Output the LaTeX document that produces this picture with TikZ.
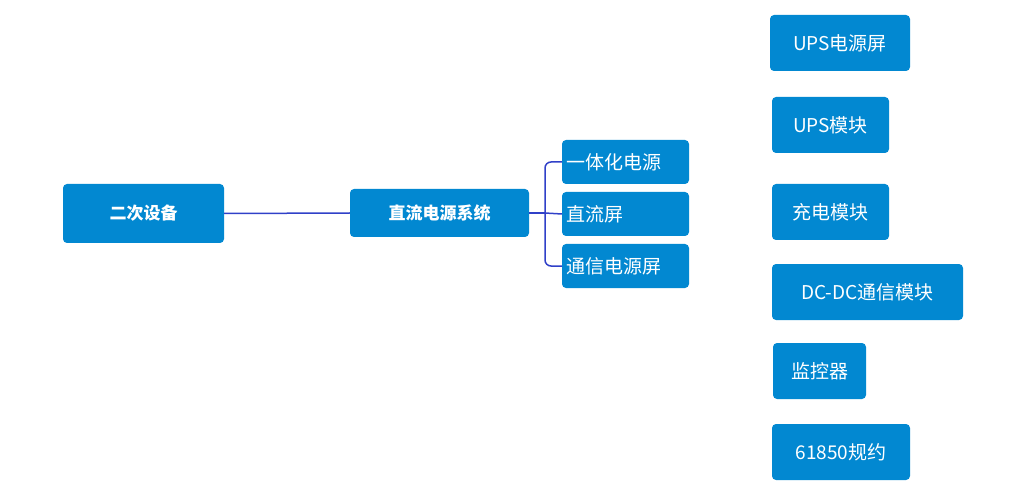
\documentclass[tikz,border=0pt]{standalone}
\usepackage{fontspec}
\setmainfont{Noto Sans CJK SC}
\definecolor{boxc}{RGB}{2,136,209}
\definecolor{linec}{RGB}{48,64,200}
\begin{document}
\begin{tikzpicture}[x=1pt,y=-1pt,
 bx/.style={fill=boxc,rounded corners=4pt,text=white,inner sep=0pt,font=\fontsize{19}{22}\selectfont},
 ln/.style={draw=linec,line width=1.5pt}]
\useasboundingbox (0,0) rectangle (1028,497);
\node[bx,minimum width=161pt,minimum height=59pt,font=\bfseries\fontsize{17}{20}\selectfont] (a) at (143.5,213.5) {二次设备};
\node[bx,minimum width=179pt,minimum height=48pt,font=\bfseries\fontsize{17}{20}\selectfont] (b) at (439.5,213) {直流电源系统};
\node[bx,minimum width=127pt,minimum height=44pt,text width=119pt,align=left] (c1) at (625.5,162) {一体化电源};
\node[bx,minimum width=127pt,minimum height=44pt,text width=119pt,align=left] (c2) at (625.5,214) {直流屏};
\node[bx,minimum width=127pt,minimum height=44pt,text width=119pt,align=left] (c3) at (625.5,266) {通信电源屏};
\node[bx,minimum width=140pt,minimum height=56pt] (d1) at (840,43) {UPS电源屏};
\node[bx,minimum width=117pt,minimum height=56pt] (d2) at (830.5,125) {UPS模块};
\node[bx,minimum width=117pt,minimum height=56pt] (d3) at (830.5,212) {充电模块};
\node[bx,minimum width=191pt,minimum height=56pt] (d4) at (867.5,292) {DC-DC通信模块};
\node[bx,minimum width=93pt,minimum height=56pt] (d5) at (819.5,371) {监控器};
\node[bx,minimum width=138pt,minimum height=56pt] (d6) at (841,452) {61850规约};
\draw[ln] (a.east) -- (b.west);
\coordinate (j) at (545,213);
\draw[ln] (b.east) -- (j);
\draw[ln,rounded corners=6pt] (c1.west) -- (j |- c1.west) -- (j |- c3.west) -- (c3.west);
\draw[ln] (j) -- (c2.west);
\end{tikzpicture}
\end{document}
